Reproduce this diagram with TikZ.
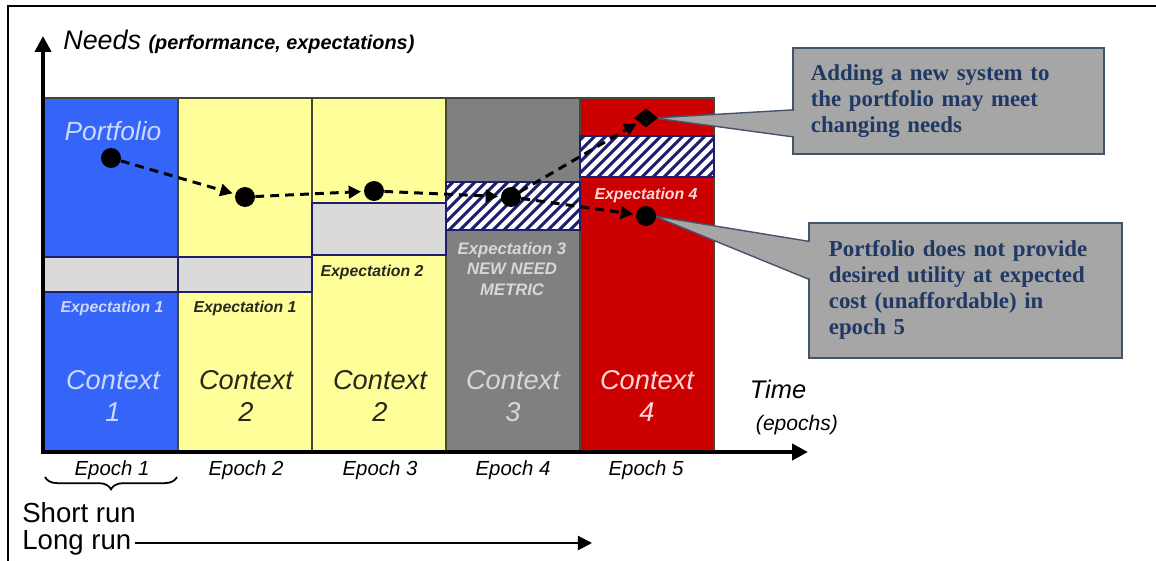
\documentclass[tikz,border=0pt]{standalone}
\usepackage{fontspec}
\setmainfont{Liberation Sans}
\newfontfamily\boxfont{Liberation Serif}
\usepackage{tikz}
\usetikzlibrary{arrows.meta,shapes.geometric,decorations.pathreplacing,calc}

\definecolor{ctxblue}{RGB}{52,100,248}
\definecolor{ctxyellow}{RGB}{255,255,153}
\definecolor{ctxgray}{RGB}{128,128,128}
\definecolor{ctxred}{RGB}{204,0,0}
\definecolor{bandgray}{RGB}{218,218,218}
\definecolor{bandline}{RGB}{30,30,110}
\definecolor{colline}{RGB}{70,70,55}
\definecolor{callfill}{RGB}{166,166,166}
\definecolor{callline}{RGB}{68,84,106}
\definecolor{calltext}{RGB}{31,56,100}
\definecolor{txtblue}{RGB}{205,215,255}
\definecolor{txtgray}{RGB}{215,215,215}
\definecolor{txtred}{RGB}{255,215,215}
\definecolor{txtdark}{RGB}{40,40,30}

\newcommand{\fsz}[2]{\fontsize{#1}{#2}\selectfont}

\tikzset{
  epochcol/.style={draw=colline,line width=0.8pt},
  band/.style={fill=bandgray,draw=bandline,line width=1pt},
  hatchband/.style={fill=white,draw=bandline,line width=0.8pt},
  hatchline/.style={draw=bandline,line width=1.8pt},
  ptdot/.style={circle,fill=black,inner sep=0pt,minimum size=0.4cm},
  ptdiamond/.style={diamond,fill=black,inner sep=0pt,minimum width=0.48cm,minimum height=0.38cm},
  ptarrow/.style={line width=1.7pt,dash pattern=on 5pt off 3.5pt,-{Triangle[width=7pt,length=7pt]},shorten >=1.5pt},
  axis/.style={line width=2.3pt,-{Triangle[width=9pt,length=9pt]}},
  callout/.style={draw=callline,fill=callfill,line width=1pt,font=\boxfont\bfseries\fsz{13}{14.8},text=calltext,align=left,anchor=north west,inner sep=0pt},
  wedge/.style={fill=callfill,draw=callline,line width=0.8pt},
  explbl/.style={font=\bfseries\itshape\fsz{9}{11},align=center},
  ctxlbl/.style={font=\itshape\fsz{15.5}{18},align=center},
  epochlbl/.style={font=\itshape\fsz{11.6}{14}}
}

\begin{document}
\begin{tikzpicture}[x=0.02cm,y=-0.02cm]
  \useasboundingbox (0,0) rectangle (1156,561);
  % outer frame
  \draw[line width=1.2pt] (8,561) -- (8,6) -- (1156,6);

  % epochs as columns
  \draw[epochcol,fill=ctxblue] (43,98) rectangle (178,452);
  \draw[epochcol,fill=ctxyellow] (178,98) rectangle (312,452);
  \draw[epochcol,fill=ctxyellow] (312,98) rectangle (446,452);
  \draw[epochcol,fill=ctxgray] (446,98) rectangle (580,452);
  \draw[epochcol,fill=ctxred] (580,98) rectangle (714,452);

  % expectation bands
  \draw[band] (43,257) rectangle (178,292);
  \draw[band] (178,257) rectangle (312,292);
  \draw[band] (312,203) rectangle (446,255);
  \draw[hatchband] (446,182) rectangle (580,230);
  \begin{scope}
    \clip (446,182) rectangle (580,230);
    \foreach \k in {0,...,17}
      \draw[hatchline] ({392+\k*11},232) -- ++(54,-54);
  \end{scope}
  \draw[bandline,line width=0.8pt] (446,182) rectangle (580,230);
  \draw[hatchband] (580,136) rectangle (714,177);
  \begin{scope}
    \clip (580,136) rectangle (714,177);
    \foreach \k in {0,...,17}
      \draw[hatchline] ({530+\k*11},179) -- ++(46,-46);
  \end{scope}
  \draw[bandline,line width=0.8pt] (580,136) rectangle (714,177);

  % band labels
  \node[explbl,text=txtblue] (exp1a) at (112,308) {Expectation 1};
  \node[explbl,text=txtdark] (exp1b) at (245,308) {Expectation 1};
  \node[explbl,text=txtdark] (exp2) at (372,272) {Expectation 2};
  \node[explbl,text=txtgray,font=\bfseries\itshape\fsz{9.5}{11.8}] (exp3) at (512,269) {Expectation 3\\NEW NEED\\METRIC};
  \node[explbl,text=txtred] (exp4) at (646,195) {Expectation 4};

  % contexts
  \node[ctxlbl,text=txtblue] (ctx1) at (113,396) {Context\\1};
  \node[ctxlbl,text=txtdark] (ctx2) at (246,396) {Context\\2};
  \node[ctxlbl,text=txtdark] (ctx2b) at (380,396) {Context\\2};
  \node[ctxlbl,text=txtgray] (ctx3) at (513,396) {Context\\3};
  \node[ctxlbl,text=txtred] (ctx4) at (647,396) {Context\\4};

  % axes
  \coordinate (origin) at (43,452);
  \coordinate (ytop) at (43,36);
  \coordinate (xend) at (808,452);
  \draw[axis] ($(origin)+(0,2)$) -- (ytop);
  \draw[axis] ($(origin)+(-2,0)$) -- (xend);
  \node[anchor=base west,inner sep=0pt] (needs) at (63,50)
    {\fsz{15.3}{18}\itshape Needs \fsz{11.3}{13}\bfseries(performance, expectations)};
  \node[font=\itshape\fsz{14.5}{17}] (time) at (778,389) {Time};
  \node[font=\itshape\fsz{12}{14}] (epochs) at (797,425) {(epochs)};
  \node[font=\itshape\fsz{15}{18},text=txtblue] (portf) at (113,131) {Portfolio};

  \foreach \n/\x in {1/112,2/246,3/380,4/513,5/646}
    \node[epochlbl] (ep\n) at (\x,470) {Epoch \n};

  % short and long run
  \draw[decorate,decoration={brace,mirror,amplitude=7pt},line width=1pt] (45,477) -- (177,477);
  \node[anchor=west,inner sep=0pt,font=\fsz{15.7}{18}] (short) at (22,513) {Short run};
  \node[anchor=west,inner sep=0pt,font=\fsz{15.7}{18}] (long) at (22,543) {Long run};
  \coordinate (longend) at (592,543);
  \draw[line width=1.2pt,-{Triangle[width=8pt,length=8pt]}] ($(long.east)+(3,0)$) -- (longend);

  % callouts
  \node[callout,minimum width=6.22cm,minimum height=2.12cm,text width=5.5cm,inner xsep=0.36cm] (call1) at (792,47)
    {Adding a new system to\\the portfolio may meet\\changing needs};
  \node[callout,minimum width=6.26cm,minimum height=2.7cm,text width=5.46cm,inner xsep=0.4cm] (call2) at (808,222)
    {Portfolio does not provide\\desired utility at expected\\cost (unaffordable) in\\epoch 5};
  \coordinate (d5) at (646,118);
  \coordinate (d6) at (646,216);
  \draw[wedge] ($(d5)+(8,0)$) -- ($(call1.west)+(1,9)$) -- ($(call1.west)+(1,36)$) -- cycle;
  \draw[wedge] ($(d6)+(8,0)$) -- ($(call2.west)+(1,-49)$) -- ($(call2.west)+(1,-11)$) -- cycle;
  \fill[callfill] ($(call1.west)+(-0.5,10)$) rectangle ($(call1.west)+(1.5,35)$);
  \fill[callfill] ($(call2.west)+(-0.5,-48)$) rectangle ($(call2.west)+(1.5,-12)$);

  % portfolio path
  \node[ptdot] (p1) at (111,158) {};
  \node[ptdot] (p2) at (245,197) {};
  \node[ptdot] (p3) at (374,191) {};
  \node[ptdot] (p4) at (511,197) {};
  \node[ptdiamond] (p5) at (d5) {};
  \node[ptdot] (p6) at (d6) {};
  \draw[ptarrow] (p1) -- (p2);
  \draw[ptarrow] (p2) -- (p3);
  \draw[ptarrow] (p3) -- (p4);
  \draw[ptarrow] (p4) -- (p5);
  \draw[ptarrow] (p4) -- (p6);
\end{tikzpicture}
\end{document}
